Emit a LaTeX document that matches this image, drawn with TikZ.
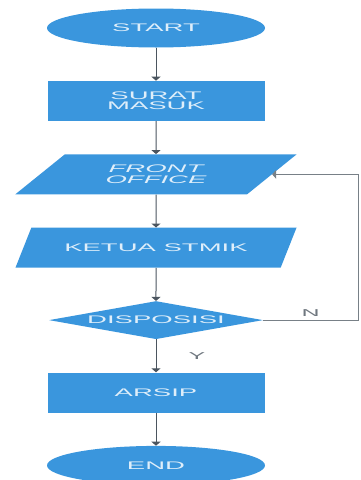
\documentclass[tikz,border=0pt]{standalone}
\usepackage{fontspec}
\newfontfamily\flowfont[FakeStretch=2.5]{Liberation Sans}
\usepackage{tikz}
\usetikzlibrary{arrows.meta,positioning,shapes.geometric}
\definecolor{flowblue}{RGB}{58,150,221}
\definecolor{flowtext}{RGB}{222,238,250}
\definecolor{flowline}{RGB}{75,85,95}

\begin{document}
\begin{tikzpicture}[
  x=1pt, y=1pt,
  node distance=33pt,
  base/.style={fill=flowblue, text=flowtext, font=\flowfont\fontsize{11}{10.5}\selectfont, align=center, inner sep=0pt},
  terminal/.style={base, ellipse, minimum width=218pt, minimum height=39pt},
  process/.style={base, rectangle, minimum width=217pt, minimum height=40pt},
  io/.style={base, trapezium, trapezium left angle=33.7, trapezium right angle=146.3, trapezium stretches=true, minimum width=282pt, minimum height=40pt},
  decision/.style={base, diamond, aspect=5.6, minimum width=214pt, minimum height=38pt},
  arrow/.style={-{Triangle[length=4pt,width=9pt]}, draw=flowline, line width=1pt},
  lbl/.style={text=flowline!80, font=\flowfont\fontsize{10}{10}\selectfont, inner sep=0pt}
]
\useasboundingbox (0,0) rectangle (360,-480);

\node[terminal] (start) at (156,-28) {START};
\node[process, below=of start] (surat) {SURAT\\MASUK};
\node[io, below=of surat] (front) {\itshape FRONT\\\itshape OFFICE};
\node[io, below=of front] (ketua) {KETUA STMIK};
\node[decision, below=of ketua] (disp) {DISPOSISI};
\node[process, below=of disp] (arsip) {ARSIP};
\node[terminal, below=of arsip] (end) {END};
\coordinate (loop) at (358,0);

\draw[arrow] (start) -- (surat);
\draw[arrow] (surat) -- (front);
\draw[arrow] (front) -- (ketua);
\draw[arrow] (ketua) -- (disp);
\draw[arrow] (disp) -- node[lbl, right=32pt]{Y} (arsip);
\draw[arrow] (arsip) -- (end);
\draw[arrow, line width=0.7pt, draw=flowline!75] (disp.east) -- node[lbl, above=3pt]{N} (disp.east -| loop) |- (front.east);

\end{tikzpicture}
\end{document}
